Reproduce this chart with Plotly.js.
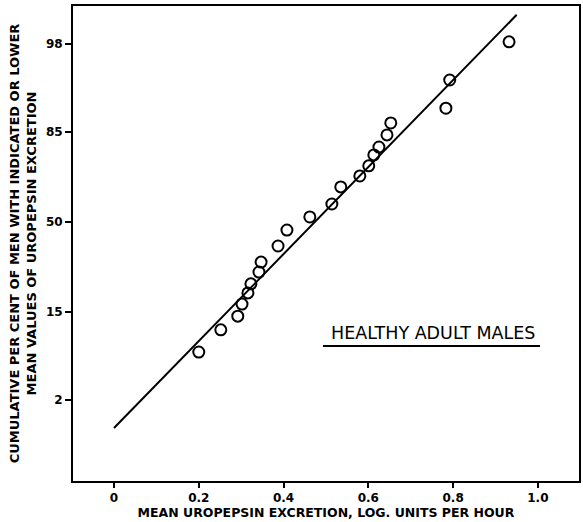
<!DOCTYPE html>
<html>
<head>
<meta charset="utf-8">
<script src="https://cdn.plot.ly/plotly-3.0.1.min.js"></script>
<style>html,body{margin:0;padding:0;background:#fff;}#chart{width:583px;height:522px;}</style>
</head>
<body>
<div id="chart"></div>
<script>
// Observed points: mean uropepsin excretion (log units/hour) vs cumulative per cent
var excretion = [0.200, 0.252, 0.292, 0.302, 0.316, 0.323, 0.342, 0.347, 0.387, 0.408, 0.462,
                 0.514, 0.535, 0.580, 0.601, 0.613, 0.625, 0.644, 0.653, 0.783, 0.792, 0.932];
var cumPercent = [6.7, 10.7, 13.9, 17.2, 20.7, 23.8, 28.2, 32.2, 39.1, 46.3, 52.3,
                  58.2, 65.7, 70.2, 74.1, 78.0, 80.6, 84.2, 87.3, 90.5, 94.9, 98.1];
// Fitted line endpoints
var fitX = [0.0, 0.95];
var fitPercent = [0.88, 99.15];
// Probability-scale tick labels
var yTickPercent = [2, 15, 50, 85, 98];
var yTickText = ['2', '15', '50', '85', '98'];
var xTickVals = [0, 0.2, 0.4, 0.6, 0.8, 1.0];
var xTickText = ['0', '0.2', '0.4', '0.6', '0.8', '1.0'];

// inverse standard normal CDF (probability scale)
function probit(p) {
  var a = [-3.969683028665376e+01, 2.209460984245205e+02, -2.759285104469687e+02, 1.383577518672690e+02, -3.066479806614716e+01, 2.506628277459239e+00];
  var b = [-5.447609879822406e+01, 1.615858368580409e+02, -1.556989798598866e+02, 6.680131188771972e+01, -1.328068155288572e+01];
  var c = [-7.784894002430293e-03, -3.223964580411365e-01, -2.400758277161838e+00, -2.549732539343734e+00, 4.374664141464968e+00, 2.938163982698783e+00];
  var d = [7.784695709041462e-03, 3.224671290700398e-01, 2.445134137142996e+00, 3.754408661907416e+00];
  var pl = 0.02425, q, r;
  if (p < pl) { q = Math.sqrt(-2 * Math.log(p));
    return (((((c[0]*q+c[1])*q+c[2])*q+c[3])*q+c[4])*q+c[5]) / ((((d[0]*q+d[1])*q+d[2])*q+d[3])*q+1); }
  if (p > 1 - pl) { q = Math.sqrt(-2 * Math.log(1 - p));
    return -(((((c[0]*q+c[1])*q+c[2])*q+c[3])*q+c[4])*q+c[5]) / ((((d[0]*q+d[1])*q+d[2])*q+d[3])*q+1); }
  q = p - 0.5; r = q * q;
  return (((((a[0]*r+a[1])*r+a[2])*r+a[3])*r+a[4])*r+a[5])*q / (((((b[0]*r+b[1])*r+b[2])*r+b[3])*r+b[4])*r+1);
}
function toZ(arr) { return arr.map(function (v) { return probit(v / 100); }); }

var font = 'DejaVu Sans, Liberation Sans, Arial, sans-serif';

var traces = [
  { x: fitX, y: toZ(fitPercent), mode: 'lines', type: 'scatter',
    line: { color: '#000', width: 2 }, hoverinfo: 'skip' },
  { x: excretion, y: toZ(cumPercent), mode: 'markers', type: 'scatter',
    marker: { symbol: 'circle-open', size: 11, color: '#000', line: { color: '#000', width: 2 } } }
];

var layout = {
  width: 583, height: 522,
  margin: { l: 73, r: 4, t: 6, b: 41 },
  paper_bgcolor: '#fff', plot_bgcolor: '#fff',
  showlegend: false,
  font: { family: font, color: '#000' },
  xaxis: {
    range: [-0.0967, 1.097], tickvals: xTickVals, ticktext: xTickText,
    ticks: 'outside', ticklen: 5, tickwidth: 2, tickcolor: '#000',
    showline: true, linewidth: 2, linecolor: '#000', mirror: true,
    showgrid: false, zeroline: false,
    tickfont: { family: font, size: 12, weight: 'bold', color: '#000' },
    title: { text: '<b>MEAN UROPEPSIN EXCRETION, LOG. UNITS PER HOUR</b>', standoff: 1,
             font: { family: font, size: 12.5, color: '#000' } }
  },
  yaxis: {
    range: [-2.984, 2.488], tickvals: toZ(yTickPercent), ticktext: yTickText,
    ticks: 'outside', ticklen: 6, tickwidth: 2, tickcolor: '#000',
    showline: true, linewidth: 2, linecolor: '#000', mirror: true,
    showgrid: false, zeroline: false,
    tickfont: { family: font, size: 12, weight: 'bold', color: '#000' },
    title: { text: '<b>CUMULATIVE PER CENT OF MEN WITH INDICATED OR LOWER<br>MEAN VALUES OF UROPEPSIN EXCRETION</b>',
             standoff: 6, font: { family: font, size: 13, color: '#000' } }
  },
  annotations: [
    { x: 0.752, y: probit(0.1004), xref: 'x', yref: 'y', text: 'HEALTHY ADULT MALES',
      showarrow: false, font: { family: font, size: 17.5, color: '#000' } }
  ],
  shapes: [
    { type: 'line', xref: 'x', yref: 'y', x0: 0.493, x1: 1.005, y0: probit(0.0765), y1: probit(0.0765),
      line: { color: '#000', width: 2 } }
  ]
};

Plotly.newPlot('chart', traces, layout, { displayModeBar: false, staticPlot: true });
</script>
</body>
</html>
